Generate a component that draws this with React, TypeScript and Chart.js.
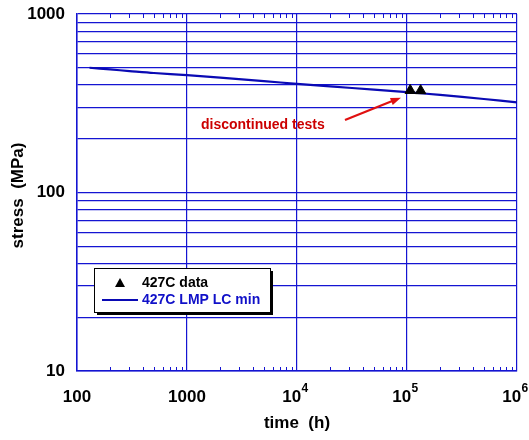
import React, { useEffect, useRef } from "react";
import { Chart, registerables } from "chart.js";

Chart.register(...registerables);

// Larson-Miller lower-bound minimum rupture curve at 427C
const curveTime = [130, 200, 300, 500, 1000, 2000, 5000, 10000, 20000, 50000, 100000, 200000, 500000, 1000000];
const curveStress = [500, 489, 479, 467, 455, 440, 421, 406, 393, 377, 365, 352, 334, 320];

// Discontinued test points at 427C
const dataTime = [107000, 133000];
const dataStress = [373, 372];

// Axis ranges and labelled ticks
const xDecades = [100, 1000, 10000, 100000, 1000000];
const xTickLabels = [["100", ""], ["1000", ""], ["10", "4"], ["10", "5"], ["10", "6"]];
const yDecades = [10, 100, 1000];
const yTickLabels = ["10", "100", "1000"];

// Annotation: label and arrow (tail -> head) in data units
const noteText = "discontinued tests";
const notePos = [1340, 239];
const arrowTail = [27300, 255];
const arrowHead = [88100, 340];

const legendLabels = ["427C data", "427C LMP LC min"];

const GRID = "#1414d2";
const LINE = "#0a0ab4";
const FONT = "'Liberation Sans', Arial, sans-serif";

function logTicks(min: number, max: number) {
  const out: { value: number }[] = [];
  for (let d = min; d < max; d *= 10) {
    for (let m = 1; m <= 9; m++) out.push({ value: d * m });
  }
  out.push({ value: max });
  return out;
}

const isDecade = (v: number) => Math.abs(Math.log10(v) - Math.round(Math.log10(v))) < 1e-9;

const decorations = {
  id: "decorations",
  afterDraw(chart: any) {
    const { ctx, chartArea: a } = chart;
    const xs = chart.scales.x;
    const ys = chart.scales.y;
    ctx.save();

    // inward minor ticks along top and bottom edges
    ctx.strokeStyle = GRID;
    ctx.lineWidth = 1;
    for (const t of logTicks(100, 1000000)) {
      if (isDecade(t.value)) continue;
      const px = Math.round(xs.getPixelForValue(t.value)) + 0.5;
      ctx.beginPath();
      ctx.moveTo(px, a.bottom);
      ctx.lineTo(px, a.bottom - 4);
      ctx.moveTo(px, a.top);
      ctx.lineTo(px, a.top + 4);
      ctx.stroke();
    }

    // y tick labels
    ctx.fillStyle = "#000";
    ctx.font = `bold 17px ${FONT}`;
    ctx.textAlign = "right";
    ctx.textBaseline = "middle";
    yDecades.forEach((v, i) => {
      ctx.fillText(yTickLabels[i], a.left - 12, ys.getPixelForValue(v));
    });

    // x tick labels with superscript exponents
    xDecades.forEach((v, i) => {
      const [base, exp] = xTickLabels[i];
      const px = xs.getPixelForValue(v);
      const py = a.bottom + 26;
      ctx.font = `bold 17px ${FONT}`;
      const wb = ctx.measureText(base).width;
      ctx.font = `bold 12px ${FONT}`;
      const we = exp ? ctx.measureText(exp).width : 0;
      const start = px - (wb + we) / 2 - (exp ? 2 : 0);
      ctx.textAlign = "left";
      ctx.textBaseline = "middle";
      ctx.font = `bold 17px ${FONT}`;
      ctx.fillText(base, start, py);
      if (exp) {
        ctx.font = `bold 12px ${FONT}`;
        ctx.fillText(exp, start + wb + 0.5, py - 8);
      }
    });

    // axis titles
    ctx.font = `bold 17px ${FONT}`;
    ctx.textAlign = "center";
    ctx.textBaseline = "middle";
    ctx.fillText("time  (h)", (a.left + a.right) / 2, a.bottom + 52);
    ctx.save();
    ctx.translate(18, (a.top + a.bottom) / 2 + 3);
    ctx.rotate(-Math.PI / 2);
    ctx.fillText("stress  (MPa)", 0, 0);
    ctx.restore();

    // annotation text and arrow
    ctx.fillStyle = "#cc0000";
    ctx.strokeStyle = "#e01010";
    ctx.font = `bold 14px ${FONT}`;
    ctx.textAlign = "left";
    ctx.fillText(noteText, xs.getPixelForValue(notePos[0]), ys.getPixelForValue(notePos[1]));
    const x0 = xs.getPixelForValue(arrowTail[0]);
    const y0 = ys.getPixelForValue(arrowTail[1]);
    const x1 = xs.getPixelForValue(arrowHead[0]);
    const y1 = ys.getPixelForValue(arrowHead[1]);
    const ang = Math.atan2(y1 - y0, x1 - x0);
    ctx.lineWidth = 2.2;
    ctx.beginPath();
    ctx.moveTo(x0, y0);
    ctx.lineTo(x1 - 6 * Math.cos(ang), y1 - 6 * Math.sin(ang));
    ctx.stroke();
    ctx.beginPath();
    ctx.moveTo(x1, y1);
    ctx.lineTo(x1 - 11 * Math.cos(ang - 0.35), y1 - 11 * Math.sin(ang - 0.35));
    ctx.lineTo(x1 - 11 * Math.cos(ang + 0.35), y1 - 11 * Math.sin(ang + 0.35));
    ctx.closePath();
    ctx.fillStyle = "#e01010";
    ctx.fill();

    // legend box with drop shadow
    const lx = 94, ly = 268, lw = 176, lh = 44;
    ctx.fillStyle = "#000";
    ctx.fillRect(lx + 3, ly + 3, lw, lh);
    ctx.fillStyle = "#fff";
    ctx.fillRect(lx, ly, lw, lh);
    ctx.strokeStyle = "#000";
    ctx.lineWidth = 1;
    ctx.strokeRect(lx + 0.5, ly + 0.5, lw, lh);

    // legend entry: triangle marker
    ctx.fillStyle = "#000";
    ctx.beginPath();
    const tx = lx + 26, ty = ly + 15;
    ctx.moveTo(tx, ty - 5);
    ctx.lineTo(tx + 5, ty + 4);
    ctx.lineTo(tx - 5, ty + 4);
    ctx.closePath();
    ctx.fill();
    ctx.font = `bold 14px ${FONT}`;
    ctx.textAlign = "left";
    ctx.textBaseline = "middle";
    ctx.fillText(legendLabels[0], lx + 48, ty);
    // legend entry: line
    ctx.strokeStyle = LINE;
    ctx.lineWidth = 2;
    ctx.beginPath();
    ctx.moveTo(lx + 8, ly + 32);
    ctx.lineTo(lx + 44, ly + 32);
    ctx.stroke();
    ctx.fillStyle = "#1010c8";
    ctx.fillText(legendLabels[1], lx + 48, ly + 32);

    ctx.restore();
  },
};

export default function App() {
  const ref = useRef<HTMLCanvasElement>(null);
  useEffect(() => {
    if (!ref.current) return;
    const chart = new Chart(ref.current, {
      type: "scatter",
      data: {
        datasets: [
          {
            label: legendLabels[0],
            data: dataTime.map((t, i) => ({ x: t, y: dataStress[i] })),
            pointStyle: "triangle",
            pointRadius: 6,
            pointBackgroundColor: "#000",
            pointBorderColor: "#000",
            showLine: false,
            order: 0,
          },
          {
            label: legendLabels[1],
            data: curveTime.map((t, i) => ({ x: t, y: curveStress[i] })),
            showLine: true,
            borderColor: LINE,
            borderWidth: 2.2,
            pointRadius: 0,
            tension: 0.3,
            order: 1,
          },
        ],
      },
      options: {
        animation: false,
        responsive: false,
        maintainAspectRatio: false,
        layout: { padding: { left: 77, right: 12, top: 14, bottom: 69 } },
        plugins: { legend: { display: false }, tooltip: { enabled: false } },
        scales: {
          x: {
            type: "logarithmic",
            min: 100,
            max: 1000000,
            afterBuildTicks: (s: any) => {
              s.ticks = logTicks(100, 1000000);
            },
            ticks: { display: false },
            grid: {
              drawTicks: false,
              color: (c: any) => (isDecade(c.tick.value) ? GRID : "rgba(0,0,0,0)"),
              lineWidth: 1.2,
            },
            border: { color: GRID, width: 1.5 },
          },
          y: {
            type: "logarithmic",
            min: 10,
            max: 1000,
            afterBuildTicks: (s: any) => {
              s.ticks = logTicks(10, 1000);
            },
            ticks: { display: false },
            grid: { drawTicks: false, color: GRID, lineWidth: 1.2 },
            border: { color: GRID, width: 1.5 },
          },
        },
      },
      plugins: [decorations],
    } as any);
    return () => chart.destroy();
  }, []);
  return (
    <div style={{ position: "fixed", left: 0, top: 0, width: 529, height: 440, background: "#fff" }}>
      <canvas ref={ref} width={529} height={440} style={{ width: 529, height: 440 }} />
    </div>
  );
}
